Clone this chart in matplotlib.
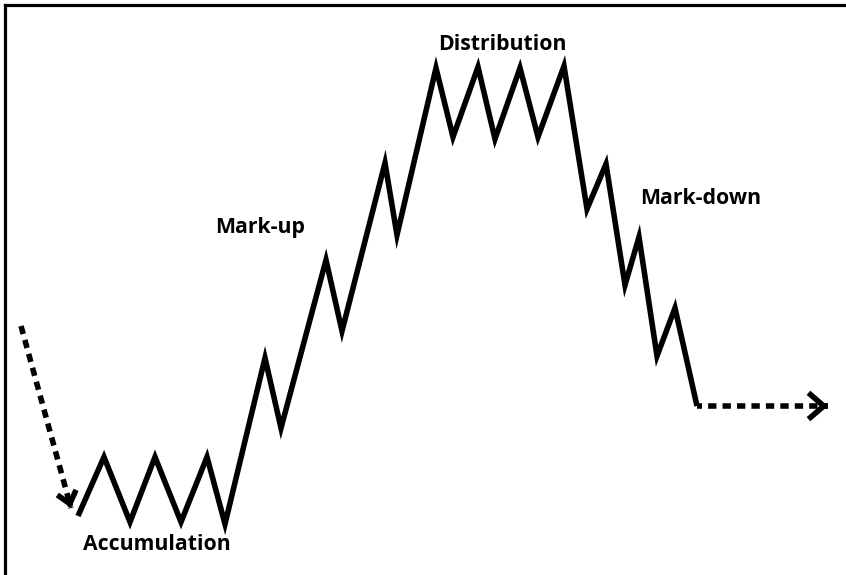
import matplotlib
matplotlib.use("Agg")
import matplotlib.pyplot as plt
from matplotlib.lines import Line2D

# Market-cycle path (x = time, y = price level; screen-like units, y grows downward)
price_x = [78, 104, 130, 155, 181, 207, 225, 265, 281, 326, 342, 385, 397, 436, 453,
           478, 495, 520, 538, 564, 587, 606, 625, 639, 657, 675, 697]
price_y = [516, 457, 522, 457, 522, 457, 524, 358, 428, 260, 331, 163, 235, 68, 137,
           67, 139, 68, 137, 66, 209, 164, 285, 237, 356, 308, 406]

lead_in_x = [21, 71]
lead_in_y = [326, 508]
lead_out_x = [697, 828]
lead_out_y = [406, 406]

phase_labels = ["Accumulation", "Mark-up", "Distribution", "Mark-down"]
phase_x = [157, 260, 502, 701]
phase_y = [544, 227, 44, 198]

W, H = 846, 575
fig = plt.figure(figsize=(W / 100, H / 100), dpi=100)
ax = fig.add_axes([0, 0, 1, 1])
ax.set_xlim(0, W)
ax.set_ylim(H, 0)
ax.axis("off")

lw = 4.0
ax.plot(price_x, price_y, color="black", lw=lw, solid_joinstyle="miter",
        solid_capstyle="butt")

dash = (1.5, 1.1)
# lead-in dotted arrow
ax.plot(lead_in_x, lead_in_y, color="black", lw=lw, linestyle=(0, dash),
        dash_capstyle="butt")
ax.annotate("", xy=(lead_in_x[1], lead_in_y[1]),
            xytext=(lead_in_x[1] - (lead_in_x[1] - lead_in_x[0]) * 0.01,
                    lead_in_y[1] - (lead_in_y[1] - lead_in_y[0]) * 0.01),
            arrowprops=dict(arrowstyle="->,head_length=0.85,head_width=0.7",
                            lw=lw, color="black", shrinkA=0, shrinkB=0,
                            capstyle="butt", joinstyle="miter"))
# lead-out dotted arrow
ax.plot(lead_out_x, lead_out_y, color="black", lw=lw, linestyle=(0.6, dash),
        dash_capstyle="butt")
ax.annotate("", xy=(lead_out_x[1], lead_out_y[1]),
            xytext=(lead_out_x[1] - 1, lead_out_y[1]),
            arrowprops=dict(arrowstyle="->,head_length=1.1,head_width=0.95",
                            lw=lw, color="black", shrinkA=0, shrinkB=0,
                            capstyle="butt", joinstyle="miter"))

for t, x, y in zip(phase_labels, phase_x, phase_y):
    ax.text(x, y, t, ha="center", va="center", fontsize=15.3, fontweight="bold",
            family=["Open Sans", "DejaVu Sans"], color="black")

# frame (top and left edges)
fig.add_artist(Line2D([4.5 / W, 4.5 / W], [0, 1 - 4.5 / H], transform=fig.transFigure,
                      color="black", lw=2.3, solid_capstyle="projecting"))
fig.add_artist(Line2D([4.5 / W, 1], [1 - 4.5 / H, 1 - 4.5 / H], transform=fig.transFigure,
                      color="black", lw=2.3, solid_capstyle="projecting"))

fig.savefig("out.png", dpi=100)
